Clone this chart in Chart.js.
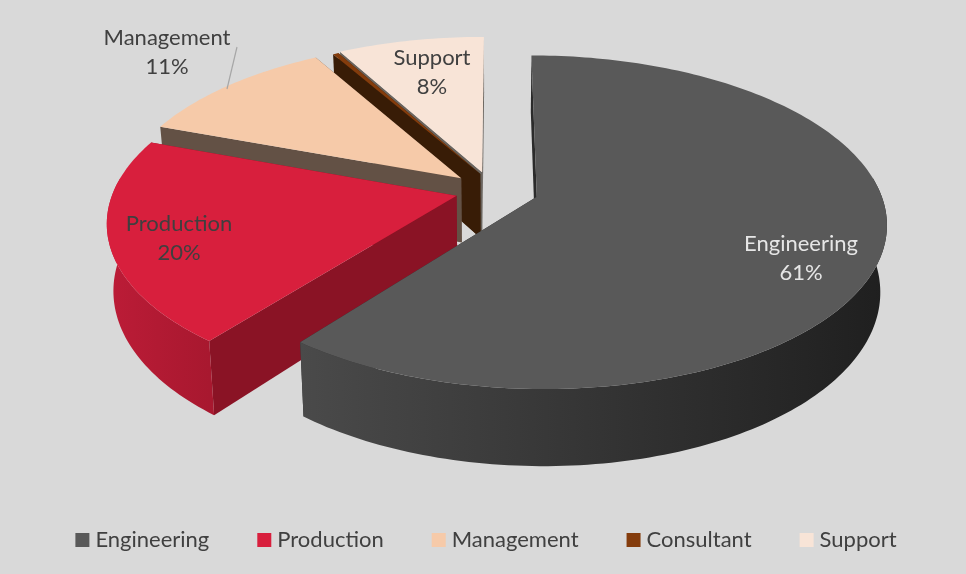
<!DOCTYPE html>
<html>
<head>
<meta charset="utf-8">
<style>
  html, body { margin: 0; padding: 0; background: #d9d9d9; }
  #wrap { width: 966px; height: 574px; }
</style>
<script src="https://cdn.jsdelivr.net/npm/chart.js@4/dist/chart.umd.min.js"></script>
</head>
<body>
<div id="wrap"><canvas id="chart" width="966" height="574"></canvas></div>
<script>
const categories = ['Engineering', 'Production', 'Management', 'Consultant', 'Support'];
const shares = [60.6, 20, 11.1, 0.3, 8];
const shareLabels = ['61%', '20%', '11%', '', '8%'];

const topColors = ['#595959', '#D81F3D', '#F6CAA9', '#843C0C', '#F8E4D7'];
const edgeColors = ['#2b2b2b', '#8A1325', '#635145', '#381C06', '#6A645E'];
const rimLeft = ['#4a4a4a', '#BC1C37', '#8f7460', '#5a2a08', '#8f8880'];
const rimRight = ['#1f1f1f', '#A8182F', '#6f5a48', '#381C06', '#6A645E'];
const labelColors = ['#E6E6E6', '#3F3F3F', '#404040', '#404040', '#404040'];

// where each data label sits, category order
const labelSpots = [[801, 258], [179, 238], [167, 52], null, [432, 72]];
// slices are not pulled out evenly in the original, px sideways
const sideNudge = [2, 0, -4, 4, -4];

// tilted view of the pie
const view = { cx: 496, cy: 190.5, rimX: 343, rimY: 161, persp: 0.1515, depth: 65, squeeze: 0.017, pull: 0.119, backLimit: -0.12 };

function project(nx, ny, dropped) {
  const w = 1 / (1 - ny * view.persp);
  let x = view.cx + view.rimX * nx * w;
  let y = view.cy + view.rimY * ny * w;
  if (dropped) {
    x = view.cx + (x - view.cx) * (1 - view.squeeze);
    y += view.depth * w;
  }
  return [x, y];
}

function rimAngles(arc, frontOnly) {
  const steps = Math.max(2, Math.ceil((arc.end - arc.start) / 0.02));
  const out = [];
  for (let i = 0; i <= steps; i++) {
    const a = arc.start + (arc.end - arc.start) * i / steps;
    if (!frontOnly || Math.sin(a) > view.backLimit) out.push(a);
  }
  return out;
}

function rimPoint(arc, a, dropped) {
  return project(Math.cos(a) + arc.ox, Math.sin(a) + arc.oy, dropped);
}

function drawEdge(ctx, arc, angle, color) {
  const a = project(arc.ox, arc.oy, false);
  const b = rimPoint(arc, angle, false);
  const c = rimPoint(arc, angle, true);
  const d = project(arc.ox, arc.oy, true);
  ctx.fillStyle = color;
  ctx.beginPath();
  ctx.moveTo(a[0], a[1]);
  ctx.lineTo(b[0], b[1]);
  ctx.lineTo(c[0], c[1]);
  ctx.lineTo(d[0], d[1]);
  ctx.closePath();
  ctx.fill();
}

function drawRimWall(ctx, arc, i) {
  const angles = rimAngles(arc, true);
  if (angles.length < 2) return;
  const top = angles.map((a) => rimPoint(arc, a, false));
  const bottom = angles.map((a) => rimPoint(arc, a, true)).reverse();
  const xs = top.map((p) => p[0]);
  const grad = ctx.createLinearGradient(Math.min(...xs), 0, Math.max(...xs), 0);
  grad.addColorStop(0, rimLeft[i]);
  grad.addColorStop(1, rimRight[i]);
  ctx.fillStyle = grad;
  ctx.beginPath();
  top.concat(bottom).forEach((p, k) => (k ? ctx.lineTo(p[0], p[1]) : ctx.moveTo(p[0], p[1])));
  ctx.closePath();
  ctx.fill();
}

// the library works out the slice angles, this only paints them tilted
const tiltedPie = {
  id: 'tiltedPie',
  beforeDatasetsDraw(chart) {
    const ctx = chart.ctx;
    const arcs = chart.getDatasetMeta(0).data;
    ctx.save();
    for (let i = arcs.length - 1; i >= 0; i--) {
      const el = arcs[i];
      const mid = (el.startAngle + el.endAngle) / 2;
      const arc = {
        start: el.startAngle,
        end: el.endAngle,
        ox: Math.cos(mid) * view.pull + sideNudge[i] / view.rimX,
        oy: Math.sin(mid) * view.pull
      };

      drawEdge(ctx, arc, arc.end, edgeColors[i]);
      drawEdge(ctx, arc, arc.start, edgeColors[i]);
      drawRimWall(ctx, arc, i);

      const apex = project(arc.ox, arc.oy, false);
      ctx.fillStyle = topColors[i];
      ctx.beginPath();
      ctx.moveTo(apex[0], apex[1]);
      rimAngles(arc, false).forEach((a) => {
        const p = rimPoint(arc, a, false);
        ctx.lineTo(p[0], p[1]);
      });
      ctx.closePath();
      ctx.fill();
    }

    // leader line for Management
    ctx.strokeStyle = '#A6A6A6';
    ctx.lineWidth = 1.2;
    ctx.beginPath();
    ctx.moveTo(237, 47);
    ctx.lineTo(227, 89);
    ctx.stroke();

    ctx.font = '22px Lato';
    ctx.textAlign = 'center';
    ctx.textBaseline = 'middle';
    labelSpots.forEach((spot, i) => {
      if (!spot) return;
      ctx.fillStyle = labelColors[i];
      ctx.fillText(categories[i], spot[0], spot[1] - 14);
      ctx.fillText(shareLabels[i], spot[0], spot[1] + 15);
    });
    ctx.restore();
    return false;
  }
};

new Chart(document.getElementById('chart'), {
  type: 'pie',
  plugins: [tiltedPie],
  data: {
    labels: categories,
    datasets: [{ data: shares, backgroundColor: topColors, borderWidth: 0 }]
  },
  options: {
    responsive: false,
    animation: false,
    layout: { padding: { bottom: 13, left: 11 } },
    plugins: {
      tooltip: { enabled: false },
      legend: {
        position: 'bottom',
        labels: {
          color: '#404040',
          font: { family: 'Lato', size: 22 },
          usePointStyle: true,
          pointStyle: 'rect',
          boxWidth: 4,
          boxHeight: 14,
          padding: 53
        }
      }
    }
  }
});
</script>
</body>
</html>
